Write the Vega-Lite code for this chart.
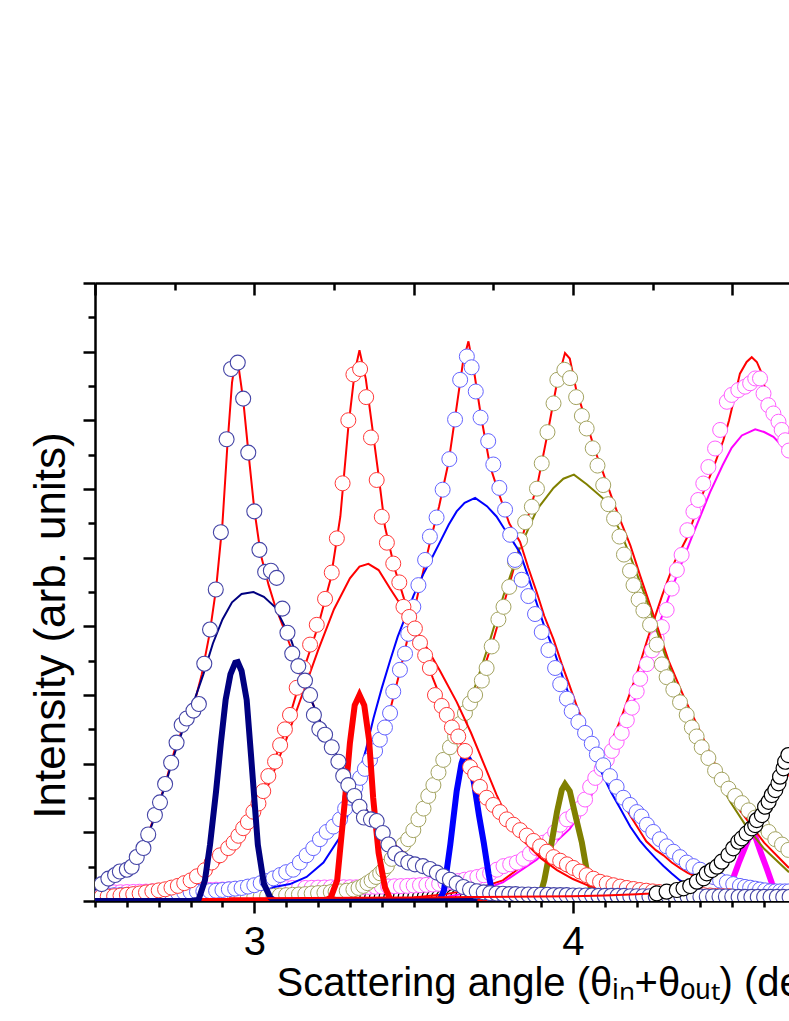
{
"$schema":"https://vega.github.io/schema/vega-lite/v6.json",
"width":694,"height":618,
"autosize":{"type":"none"},
"padding":{"left":95,"top":283,"right":0,"bottom":120},
"background":"white",
"config":{"view":{"stroke":null},"axis":{"grid":false,"domainColor":"#000","tickColor":"#000","labelColor":"#000","titleColor":"#000","labelFont":"Liberation Sans","titleFont":"Liberation Sans","titleFontWeight":"normal","domainWidth":2.5,"tickWidth":2.5}},
"datasets":{
"d1":[{"x":2.521,"y":0.246},{"x":2.542,"y":0.326},{"x":2.563,"y":0.378},{"x":2.578,"y":0.429},{"x":2.600,"y":0.456},{"x":2.615,"y":0.498},{"x":2.631,"y":0.640},{"x":2.652,"y":0.771},{"x":2.667,"y":0.969},{"x":2.688,"y":1.252},{"x":2.704,"y":1.437},{"x":2.720,"y":1.703},{"x":2.739,"y":2.013},{"x":2.756,"y":2.307},{"x":2.772,"y":2.563},{"x":2.788,"y":2.658},{"x":2.809,"y":2.773},{"x":2.826,"y":2.868},{"x":2.843,"y":3.456},{"x":2.861,"y":3.953},{"x":2.879,"y":4.536},{"x":2.895,"y":5.371},{"x":2.913,"y":6.725},{"x":2.927,"y":7.747},{"x":2.948,"y":7.841},{"x":2.965,"y":7.316},{"x":2.981,"y":6.530},{"x":3.000,"y":5.674},{"x":3.016,"y":5.114},{"x":3.034,"y":4.793},{"x":3.052,"y":4.809},{"x":3.070,"y":4.705},{"x":3.088,"y":4.258},{"x":3.104,"y":3.907},{"x":3.119,"y":3.603},{"x":3.138,"y":3.421},{"x":3.159,"y":3.210},{"x":3.175,"y":2.999},{"x":3.187,"y":2.710},{"x":3.204,"y":2.504},{"x":3.222,"y":2.422},{"x":3.243,"y":2.239},{"x":3.264,"y":2.029},{"x":3.279,"y":1.820},{"x":3.295,"y":1.688},{"x":3.314,"y":1.530},{"x":3.330,"y":1.373},{"x":3.344,"y":1.215},{"x":3.366,"y":1.189},{"x":3.384,"y":1.164},{"x":3.403,"y":0.990},{"x":3.421,"y":0.822},{"x":3.442,"y":0.691},{"x":3.463,"y":0.611},{"x":3.483,"y":0.560},{"x":3.504,"y":0.534},{"x":3.529,"y":0.508},{"x":3.551,"y":0.466},{"x":3.573,"y":0.413},{"x":3.593,"y":0.361},{"x":3.614,"y":0.309},{"x":3.635,"y":0.256},{"x":3.656,"y":0.204},{"x":3.677,"y":0.167},{"x":3.698,"y":0.141},{"x":3.72,"y":0.125},{"x":3.74,"y":0.115},{"x":3.76,"y":0.11},{"x":3.78,"y":0.105},{"x":3.80,"y":0.10},{"x":3.82,"y":0.10},{"x":3.84,"y":0.095},{"x":3.86,"y":0.095},{"x":3.88,"y":0.09},{"x":3.90,"y":0.09},{"x":3.92,"y":0.09},{"x":3.94,"y":0.085},{"x":3.96,"y":0.085},{"x":3.98,"y":0.085},{"x":4.00,"y":0.08},{"x":4.02,"y":0.08},{"x":4.04,"y":0.08},{"x":4.06,"y":0.08},{"x":4.08,"y":0.075},{"x":4.10,"y":0.075},{"x":4.12,"y":0.075},{"x":4.14,"y":0.075},{"x":4.16,"y":0.075},{"x":4.18,"y":0.07},{"x":4.20,"y":0.07},{"x":4.22,"y":0.07},{"x":4.24,"y":0.07},{"x":4.26,"y":0.07},{"x":4.28,"y":0.07},{"x":4.30,"y":0.07},{"x":4.32,"y":0.07},{"x":4.34,"y":0.07},{"x":4.36,"y":0.065},{"x":4.38,"y":0.065},{"x":4.40,"y":0.065},{"x":4.42,"y":0.065},{"x":4.44,"y":0.065},{"x":4.46,"y":0.065},{"x":4.48,"y":0.065},{"x":4.50,"y":0.065},{"x":4.52,"y":0.06},{"x":4.54,"y":0.06},{"x":4.56,"y":0.06},{"x":4.58,"y":0.06},{"x":4.60,"y":0.06},{"x":4.62,"y":0.06},{"x":4.64,"y":0.06},{"x":4.66,"y":0.06},{"x":4.68,"y":0.06}],
"f1":[{"x":2.50,"y":0.17},{"x":2.53,"y":0.28},{"x":2.56,"y":0.37},{"x":2.60,"y":0.46},{"x":2.63,"y":0.62},{"x":2.66,"y":0.90},{"x":2.69,"y":1.27},{"x":2.72,"y":1.70},{"x":2.75,"y":2.2},{"x":2.78,"y":2.58},{"x":2.81,"y":2.85},{"x":2.835,"y":3.3},{"x":2.86,"y":3.9},{"x":2.88,"y":4.55},{"x":2.90,"y":5.5},{"x":2.915,"y":6.6},{"x":2.93,"y":7.55},{"x":2.94,"y":7.85},{"x":2.95,"y":7.8},{"x":2.965,"y":7.3},{"x":2.98,"y":6.6},{"x":3.00,"y":5.7},{"x":3.02,"y":5.05},{"x":3.045,"y":4.6},{"x":3.065,"y":4.3},{"x":3.09,"y":4.0},{"x":3.11,"y":3.75},{"x":3.14,"y":3.4},{"x":3.175,"y":2.97},{"x":3.217,"y":2.5},{"x":3.269,"y":2.03},{"x":3.321,"y":1.56},{"x":3.374,"y":1.16},{"x":3.426,"y":0.88},{"x":3.478,"y":0.67},{"x":3.53,"y":0.49},{"x":3.583,"y":0.33},{"x":3.635,"y":0.22},{"x":3.687,"y":0.14},{"x":3.75,"y":0.09},{"x":3.85,"y":0.06},{"x":4.0,"y":0.05},{"x":4.3,"y":0.04},{"x":4.68,"y":0.04}],
"b1":[{"x":2.50,"y":0.16},{"x":2.53,"y":0.27},{"x":2.56,"y":0.36},{"x":2.60,"y":0.45},{"x":2.63,"y":0.61},{"x":2.66,"y":0.88},{"x":2.69,"y":1.25},{"x":2.72,"y":1.68},{"x":2.75,"y":2.15},{"x":2.78,"y":2.55},{"x":2.81,"y":2.9},{"x":2.84,"y":3.3},{"x":2.87,"y":3.75},{"x":2.90,"y":4.1},{"x":2.93,"y":4.35},{"x":2.96,"y":4.47},{"x":2.997,"y":4.5},{"x":3.03,"y":4.43},{"x":3.065,"y":4.28},{"x":3.09,"y":4.05},{"x":3.112,"y":3.85},{"x":3.143,"y":3.42},{"x":3.175,"y":2.97},{"x":3.217,"y":2.5},{"x":3.269,"y":2.03},{"x":3.321,"y":1.56},{"x":3.374,"y":1.16},{"x":3.426,"y":0.875},{"x":3.478,"y":0.665},{"x":3.53,"y":0.48},{"x":3.583,"y":0.325},{"x":3.635,"y":0.22},{"x":3.687,"y":0.14},{"x":3.75,"y":0.085},{"x":3.85,"y":0.05},{"x":4.0,"y":0.04},{"x":4.3,"y":0.03},{"x":4.68,"y":0.02}],
"n1":[{"x":2.50,"y":0},{"x":2.80,"y":0},{"x":2.825,"y":0.02},{"x":2.845,"y":0.3},{"x":2.861,"y":0.82},{"x":2.88,"y":1.6},{"x":2.895,"y":2.3},{"x":2.91,"y":2.93},{"x":2.925,"y":3.3},{"x":2.94,"y":3.47},{"x":2.948,"y":3.48},{"x":2.96,"y":3.35},{"x":2.976,"y":2.93},{"x":2.99,"y":2.1},{"x":3.011,"y":0.82},{"x":3.03,"y":0.25},{"x":3.05,"y":0.05},{"x":3.065,"y":0},{"x":3.70,"y":0}],
"d2":[{"x":2.52,"y":0.06},{"x":2.54,"y":0.065},{"x":2.56,"y":0.07},{"x":2.58,"y":0.08},{"x":2.60,"y":0.09},{"x":2.62,"y":0.10},{"x":2.64,"y":0.11},{"x":2.66,"y":0.125},{"x":2.68,"y":0.14},{"x":2.70,"y":0.155},{"x":2.72,"y":0.17},{"x":2.74,"y":0.195},{"x":2.76,"y":0.22},{"x":2.78,"y":0.26},{"x":2.80,"y":0.30},{"x":2.82,"y":0.36},{"x":2.845,"y":0.45},{"x":2.866,"y":0.56},{"x":2.892,"y":0.665},{"x":2.918,"y":0.77},{"x":2.935,"y":0.85},{"x":2.95,"y":0.95},{"x":2.965,"y":1.06},{"x":2.98,"y":1.15},{"x":2.997,"y":1.30},{"x":3.013,"y":1.42},{"x":3.028,"y":1.60},{"x":3.044,"y":1.82},{"x":3.065,"y":2.03},{"x":3.081,"y":2.27},{"x":3.096,"y":2.50},{"x":3.112,"y":2.71},{"x":3.133,"y":3.105},{"x":3.154,"y":3.393},{"x":3.175,"y":3.734},{"x":3.196,"y":4.022},{"x":3.222,"y":4.40},{"x":3.243,"y":4.783},{"x":3.259,"y":5.281},{"x":3.277,"y":6.083},{"x":3.295,"y":7.001},{"x":3.311,"y":7.668},{"x":3.332,"y":7.747},{"x":3.351,"y":7.338},{"x":3.366,"y":6.75},{"x":3.384,"y":6.131},{"x":3.40,"y":5.595},{"x":3.416,"y":5.218},{"x":3.436,"y":4.914},{"x":3.455,"y":4.64},{"x":3.468,"y":4.284},{"x":3.486,"y":4.137},{"x":3.504,"y":3.969},{"x":3.52,"y":3.76},{"x":3.536,"y":3.576},{"x":3.551,"y":3.393},{"x":3.567,"y":2.999},{"x":3.588,"y":2.841},{"x":3.604,"y":2.71},{"x":3.62,"y":2.527},{"x":3.64,"y":2.396},{"x":3.661,"y":2.186},{"x":3.677,"y":1.95},{"x":3.693,"y":1.85},{"x":3.708,"y":1.662},{"x":3.729,"y":1.504},{"x":3.75,"y":1.399},{"x":3.771,"y":1.295},{"x":3.792,"y":1.189},{"x":3.813,"y":1.111},{"x":3.834,"y":1.032},{"x":3.855,"y":0.953},{"x":3.876,"y":0.875},{"x":3.897,"y":0.796},{"x":3.918,"y":0.718},{"x":3.939,"y":0.639},{"x":3.96,"y":0.587},{"x":3.981,"y":0.534},{"x":4.001,"y":0.482},{"x":4.022,"y":0.429},{"x":4.043,"y":0.376},{"x":4.064,"y":0.325},{"x":4.085,"y":0.28},{"x":4.106,"y":0.255},{"x":4.127,"y":0.23},{"x":4.148,"y":0.21},{"x":4.169,"y":0.19},{"x":4.19,"y":0.175},{"x":4.21,"y":0.16},{"x":4.23,"y":0.15},{"x":4.25,"y":0.14},{"x":4.27,"y":0.13},{"x":4.29,"y":0.12},{"x":4.31,"y":0.11},{"x":4.33,"y":0.105},{"x":4.35,"y":0.10},{"x":4.37,"y":0.095},{"x":4.39,"y":0.09},{"x":4.41,"y":0.085},{"x":4.43,"y":0.08},{"x":4.45,"y":0.075},{"x":4.47,"y":0.07},{"x":4.49,"y":0.07}],
"f2":[{"x":2.50,"y":0.05},{"x":2.60,"y":0.08},{"x":2.70,"y":0.14},{"x":2.80,"y":0.28},{"x":2.85,"y":0.42},{"x":2.90,"y":0.66},{"x":2.95,"y":0.96},{"x":3.00,"y":1.33},{"x":3.05,"y":1.88},{"x":3.10,"y":2.52},{"x":3.15,"y":3.3},{"x":3.20,"y":4.0},{"x":3.24,"y":4.7},{"x":3.27,"y":5.6},{"x":3.295,"y":6.9},{"x":3.315,"y":7.7},{"x":3.33,"y":8.02},{"x":3.35,"y":7.6},{"x":3.37,"y":6.9},{"x":3.39,"y":6.2},{"x":3.41,"y":5.45},{"x":3.44,"y":4.85},{"x":3.47,"y":4.4},{"x":3.50,"y":4.0},{"x":3.53,"y":3.65},{"x":3.56,"y":3.25},{"x":3.60,"y":2.78},{"x":3.64,"y":2.38},{"x":3.68,"y":1.95},{"x":3.72,"y":1.6},{"x":3.76,"y":1.35},{"x":3.80,"y":1.15},{"x":3.85,"y":0.88},{"x":3.90,"y":0.66},{"x":3.95,"y":0.5},{"x":4.00,"y":0.38},{"x":4.05,"y":0.28},{"x":4.10,"y":0.21},{"x":4.15,"y":0.16},{"x":4.20,"y":0.12},{"x":4.30,"y":0.08},{"x":4.40,"y":0.06},{"x":4.50,"y":0.05},{"x":4.68,"y":0.04}],
"b2":[{"x":2.50,"y":0.04},{"x":2.60,"y":0.06},{"x":2.70,"y":0.11},{"x":2.80,"y":0.24},{"x":2.85,"y":0.38},{"x":2.90,"y":0.6},{"x":2.95,"y":0.9},{"x":3.00,"y":1.25},{"x":3.05,"y":1.75},{"x":3.10,"y":2.35},{"x":3.15,"y":3.0},{"x":3.20,"y":3.65},{"x":3.25,"y":4.25},{"x":3.30,"y":4.7},{"x":3.33,"y":4.87},{"x":3.358,"y":4.91},{"x":3.39,"y":4.82},{"x":3.426,"y":4.55},{"x":3.478,"y":4.18},{"x":3.53,"y":3.78},{"x":3.583,"y":3.35},{"x":3.635,"y":2.9},{"x":3.68,"y":2.45},{"x":3.72,"y":2.0},{"x":3.76,"y":1.55},{"x":3.80,"y":1.15},{"x":3.85,"y":0.85},{"x":3.90,"y":0.62},{"x":3.95,"y":0.45},{"x":4.00,"y":0.32},{"x":4.05,"y":0.22},{"x":4.10,"y":0.15},{"x":4.20,"y":0.08},{"x":4.35,"y":0.04},{"x":4.68,"y":0.02}],
"n2":[{"x":2.83,"y":0},{"x":3.22,"y":0},{"x":3.24,"y":0.05},{"x":3.26,"y":0.3},{"x":3.285,"y":1.5},{"x":3.30,"y":2.3},{"x":3.315,"y":2.85},{"x":3.33,"y":3.0},{"x":3.345,"y":2.85},{"x":3.36,"y":2.35},{"x":3.373,"y":1.5},{"x":3.39,"y":0.7},{"x":3.41,"y":0.2},{"x":3.426,"y":0.03},{"x":3.44,"y":0},{"x":3.80,"y":0}],
"d3":[{"x":2.52,"y":0.08},{"x":2.54,"y":0.082},{"x":2.56,"y":0.085},{"x":2.58,"y":0.087},{"x":2.60,"y":0.09},{"x":2.62,"y":0.092},{"x":2.64,"y":0.095},{"x":2.66,"y":0.097},{"x":2.68,"y":0.10},{"x":2.70,"y":0.105},{"x":2.72,"y":0.11},{"x":2.74,"y":0.115},{"x":2.76,"y":0.12},{"x":2.78,"y":0.125},{"x":2.80,"y":0.13},{"x":2.82,"y":0.135},{"x":2.84,"y":0.14},{"x":2.86,"y":0.145},{"x":2.88,"y":0.15},{"x":2.90,"y":0.16},{"x":2.92,"y":0.17},{"x":2.94,"y":0.18},{"x":2.96,"y":0.19},{"x":2.98,"y":0.21},{"x":3.00,"y":0.23},{"x":3.02,"y":0.26},{"x":3.04,"y":0.29},{"x":3.06,"y":0.33},{"x":3.081,"y":0.378},{"x":3.10,"y":0.42},{"x":3.122,"y":0.456},{"x":3.143,"y":0.56},{"x":3.164,"y":0.665},{"x":3.185,"y":0.77},{"x":3.206,"y":0.90},{"x":3.227,"y":1.006},{"x":3.248,"y":1.084},{"x":3.269,"y":1.189},{"x":3.285,"y":1.346},{"x":3.301,"y":1.504},{"x":3.317,"y":1.65},{"x":3.332,"y":1.793},{"x":3.347,"y":1.924},{"x":3.363,"y":2.055},{"x":3.379,"y":2.186},{"x":3.394,"y":2.35},{"x":3.41,"y":2.527},{"x":3.426,"y":2.737},{"x":3.436,"y":3.05},{"x":3.457,"y":3.367},{"x":3.473,"y":3.603},{"x":3.483,"y":3.891},{"x":3.499,"y":4.284},{"x":3.515,"y":4.6},{"x":3.536,"y":4.967},{"x":3.551,"y":5.307},{"x":3.572,"y":5.585},{"x":3.591,"y":5.99},{"x":3.612,"y":6.435},{"x":3.63,"y":7.012},{"x":3.646,"y":7.59},{"x":3.667,"y":7.93},{"x":3.682,"y":7.773},{"x":3.695,"y":7.42},{"x":3.71,"y":7.04},{"x":3.734,"y":6.697},{"x":3.75,"y":6.357},{"x":3.769,"y":6.016},{"x":3.787,"y":5.70},{"x":3.803,"y":5.333},{"x":3.818,"y":4.967},{"x":3.839,"y":4.678},{"x":3.86,"y":4.441},{"x":3.881,"y":4.179},{"x":3.902,"y":3.917},{"x":3.923,"y":3.655},{"x":3.944,"y":3.393},{"x":3.96,"y":3.157},{"x":3.981,"y":2.946},{"x":3.996,"y":2.763},{"x":4.017,"y":2.606},{"x":4.038,"y":2.448},{"x":4.059,"y":2.291},{"x":4.075,"y":2.134},{"x":4.095,"y":1.977},{"x":4.116,"y":1.819},{"x":4.137,"y":1.662},{"x":4.158,"y":1.504},{"x":4.179,"y":1.399},{"x":4.20,"y":1.295},{"x":4.215,"y":1.23},{"x":4.232,"y":1.111},{"x":4.252,"y":1.006},{"x":4.273,"y":0.9},{"x":4.294,"y":0.796},{"x":4.315,"y":0.718},{"x":4.336,"y":0.639},{"x":4.357,"y":0.56},{"x":4.378,"y":0.508},{"x":4.399,"y":0.456},{"x":4.42,"y":0.403},{"x":4.441,"y":0.35},{"x":4.462,"y":0.298},{"x":4.483,"y":0.272},{"x":4.503,"y":0.246},{"x":4.524,"y":0.22},{"x":4.54,"y":0.205},{"x":4.556,"y":0.194},{"x":4.572,"y":0.18},{"x":4.587,"y":0.167},{"x":4.603,"y":0.155},{"x":4.619,"y":0.141},{"x":4.635,"y":0.14},{"x":4.65,"y":0.14},{"x":4.665,"y":0.14},{"x":4.678,"y":0.14}],
"f3":[{"x":2.50,"y":0.09},{"x":2.75,"y":0.11},{"x":3.00,"y":0.2},{"x":3.05,"y":0.3},{"x":3.10,"y":0.4},{"x":3.15,"y":0.6},{"x":3.20,"y":0.86},{"x":3.25,"y":1.12},{"x":3.30,"y":1.48},{"x":3.35,"y":1.95},{"x":3.40,"y":2.45},{"x":3.43,"y":2.85},{"x":3.46,"y":3.4},{"x":3.49,"y":4.0},{"x":3.52,"y":4.6},{"x":3.55,"y":5.2},{"x":3.58,"y":5.75},{"x":3.61,"y":6.4},{"x":3.635,"y":7.2},{"x":3.655,"y":7.85},{"x":3.672,"y":8.15},{"x":3.69,"y":7.7},{"x":3.71,"y":7.1},{"x":3.74,"y":6.33},{"x":3.77,"y":5.9},{"x":3.80,"y":5.5},{"x":3.834,"y":5.23},{"x":3.86,"y":4.85},{"x":3.886,"y":4.5},{"x":3.91,"y":4.15},{"x":3.939,"y":3.81},{"x":3.965,"y":3.45},{"x":3.99,"y":3.13},{"x":4.015,"y":2.8},{"x":4.043,"y":2.5},{"x":4.07,"y":2.22},{"x":4.095,"y":1.98},{"x":4.12,"y":1.72},{"x":4.148,"y":1.5},{"x":4.179,"y":1.25},{"x":4.21,"y":1.02},{"x":4.23,"y":0.87},{"x":4.26,"y":0.74},{"x":4.284,"y":0.665},{"x":4.31,"y":0.56},{"x":4.336,"y":0.48},{"x":4.36,"y":0.41},{"x":4.388,"y":0.35},{"x":4.44,"y":0.25},{"x":4.493,"y":0.19},{"x":4.55,"y":0.15},{"x":4.60,"y":0.12},{"x":4.68,"y":0.1}],
"b3":[{"x":2.50,"y":0.1},{"x":2.90,"y":0.1},{"x":3.00,"y":0.15},{"x":3.112,"y":0.246},{"x":3.164,"y":0.35},{"x":3.217,"y":0.56},{"x":3.269,"y":0.93},{"x":3.295,"y":1.28},{"x":3.321,"y":1.72},{"x":3.35,"y":2.2},{"x":3.374,"y":2.66},{"x":3.40,"y":3.1},{"x":3.426,"y":3.5},{"x":3.45,"y":3.85},{"x":3.478,"y":4.18},{"x":3.50,"y":4.45},{"x":3.53,"y":4.757},{"x":3.56,"y":5.02},{"x":3.583,"y":5.23},{"x":3.61,"y":5.48},{"x":3.635,"y":5.674},{"x":3.66,"y":5.8},{"x":3.693,"y":5.87},{"x":3.73,"y":5.75},{"x":3.76,"y":5.6},{"x":3.782,"y":5.44},{"x":3.81,"y":5.25},{"x":3.834,"y":5.07},{"x":3.86,"y":4.72},{"x":3.886,"y":4.34},{"x":3.91,"y":4.0},{"x":3.94,"y":3.655},{"x":3.965,"y":3.3},{"x":3.99,"y":2.97},{"x":4.015,"y":2.65},{"x":4.043,"y":2.34},{"x":4.07,"y":2.08},{"x":4.095,"y":1.82},{"x":4.12,"y":1.58},{"x":4.148,"y":1.35},{"x":4.18,"y":1.08},{"x":4.21,"y":0.88},{"x":4.23,"y":0.77},{"x":4.26,"y":0.62},{"x":4.284,"y":0.51},{"x":4.31,"y":0.4},{"x":4.336,"y":0.3},{"x":4.36,"y":0.23},{"x":4.388,"y":0.167},{"x":4.42,"y":0.11},{"x":4.44,"y":0.087},{"x":4.49,"y":0.035},{"x":4.55,"y":0.02},{"x":4.68,"y":0.01}],
"n3":[{"x":3.45,"y":0},{"x":3.58,"y":0},{"x":3.595,"y":0.15},{"x":3.615,"y":0.82},{"x":3.635,"y":1.6},{"x":3.65,"y":2.0},{"x":3.661,"y":2.16},{"x":3.675,"y":2.05},{"x":3.69,"y":1.7},{"x":3.705,"y":1.25},{"x":3.72,"y":0.85},{"x":3.735,"y":0.4},{"x":3.748,"y":0.08},{"x":3.76,"y":0},{"x":3.90,"y":0}],
"d4":[{"x":2.90,"y":0.05},{"x":2.92,"y":0.052},{"x":2.94,"y":0.055},{"x":2.96,"y":0.057},{"x":2.98,"y":0.06},{"x":3.00,"y":0.062},{"x":3.02,"y":0.065},{"x":3.04,"y":0.07},{"x":3.06,"y":0.075},{"x":3.08,"y":0.08},{"x":3.10,"y":0.085},{"x":3.12,"y":0.09},{"x":3.14,"y":0.095},{"x":3.16,"y":0.10},{"x":3.18,"y":0.11},{"x":3.20,"y":0.115},{"x":3.22,"y":0.12},{"x":3.24,"y":0.13},{"x":3.255,"y":0.135},{"x":3.269,"y":0.14},{"x":3.29,"y":0.15},{"x":3.311,"y":0.167},{"x":3.327,"y":0.19},{"x":3.342,"y":0.22},{"x":3.355,"y":0.26},{"x":3.368,"y":0.298},{"x":3.382,"y":0.35},{"x":3.395,"y":0.403},{"x":3.405,"y":0.45},{"x":3.416,"y":0.508},{"x":3.431,"y":0.613},{"x":3.452,"y":0.718},{"x":3.468,"y":0.822},{"x":3.483,"y":0.9},{"x":3.499,"y":1.032},{"x":3.515,"y":1.189},{"x":3.531,"y":1.346},{"x":3.546,"y":1.53},{"x":3.562,"y":1.688},{"x":3.578,"y":1.872},{"x":3.593,"y":2.055},{"x":3.614,"y":2.239},{"x":3.63,"y":2.396},{"x":3.646,"y":2.58},{"x":3.661,"y":2.737},{"x":3.677,"y":2.88},{"x":3.693,"y":3.0},{"x":3.714,"y":3.21},{"x":3.729,"y":3.393},{"x":3.745,"y":3.707},{"x":3.766,"y":4.1},{"x":3.782,"y":4.284},{"x":3.80,"y":4.574},{"x":3.818,"y":4.94},{"x":3.834,"y":5.255},{"x":3.85,"y":5.517},{"x":3.871,"y":5.742},{"x":3.887,"y":6.005},{"x":3.902,"y":6.373},{"x":3.92,"y":6.828},{"x":3.939,"y":7.247},{"x":3.951,"y":7.59},{"x":3.973,"y":7.736},{"x":3.991,"y":7.615},{"x":4.01,"y":7.338},{"x":4.028,"y":7.064},{"x":4.043,"y":6.881},{"x":4.062,"y":6.593},{"x":4.077,"y":6.341},{"x":4.095,"y":6.057},{"x":4.111,"y":5.779},{"x":4.129,"y":5.569},{"x":4.146,"y":5.307},{"x":4.16,"y":5.045},{"x":4.179,"y":4.809},{"x":4.19,"y":4.6},{"x":4.206,"y":4.389},{"x":4.221,"y":4.231},{"x":4.242,"y":4.022},{"x":4.263,"y":3.734},{"x":4.279,"y":3.446},{"x":4.294,"y":3.26},{"x":4.315,"y":3.079},{"x":4.336,"y":2.894},{"x":4.357,"y":2.71},{"x":4.373,"y":2.527},{"x":4.388,"y":2.396},{"x":4.404,"y":2.239},{"x":4.425,"y":2.082},{"x":4.446,"y":1.898},{"x":4.467,"y":1.767},{"x":4.488,"y":1.636},{"x":4.509,"y":1.53},{"x":4.53,"y":1.426},{"x":4.551,"y":1.32},{"x":4.572,"y":1.215},{"x":4.593,"y":1.111},{"x":4.614,"y":1.006},{"x":4.635,"y":0.9},{"x":4.656,"y":0.822},{"x":4.676,"y":0.744}],
"f4":[{"x":3.00,"y":0.06},{"x":3.20,"y":0.1},{"x":3.30,"y":0.15},{"x":3.40,"y":0.42},{"x":3.50,"y":1.05},{"x":3.55,"y":1.6},{"x":3.60,"y":2.12},{"x":3.65,"y":2.65},{"x":3.70,"y":3.1},{"x":3.75,"y":3.8},{"x":3.80,"y":4.6},{"x":3.85,"y":5.45},{"x":3.89,"y":6.1},{"x":3.92,"y":6.8},{"x":3.95,"y":7.55},{"x":3.975,"y":7.98},{"x":3.99,"y":7.9},{"x":4.01,"y":7.45},{"x":4.043,"y":6.96},{"x":4.07,"y":6.55},{"x":4.095,"y":6.23},{"x":4.12,"y":5.9},{"x":4.148,"y":5.55},{"x":4.18,"y":5.18},{"x":4.21,"y":4.75},{"x":4.25,"y":4.2},{"x":4.30,"y":3.5},{"x":4.35,"y":2.95},{"x":4.383,"y":2.63},{"x":4.45,"y":1.95},{"x":4.524,"y":1.32},{"x":4.60,"y":0.85},{"x":4.678,"y":0.48}],
"b4":[{"x":3.00,"y":0.02},{"x":3.20,"y":0.06},{"x":3.30,"y":0.12},{"x":3.35,"y":0.25},{"x":3.42,"y":0.5},{"x":3.48,"y":0.86},{"x":3.53,"y":1.35},{"x":3.58,"y":1.88},{"x":3.63,"y":2.4},{"x":3.677,"y":2.9},{"x":3.73,"y":3.65},{"x":3.782,"y":4.45},{"x":3.834,"y":5.15},{"x":3.887,"y":5.70},{"x":3.939,"y":6.016},{"x":3.97,"y":6.15},{"x":4.003,"y":6.21},{"x":4.043,"y":6.07},{"x":4.095,"y":5.86},{"x":4.148,"y":5.39},{"x":4.18,"y":5.02},{"x":4.23,"y":4.4},{"x":4.284,"y":3.65},{"x":4.336,"y":2.98},{"x":4.388,"y":2.4},{"x":4.44,"y":1.9},{"x":4.493,"y":1.45},{"x":4.545,"y":1.08},{"x":4.6,"y":0.76},{"x":4.678,"y":0.42}],
"n4":[{"x":3.80,"y":0},{"x":3.88,"y":0},{"x":3.895,"y":0.05},{"x":3.91,"y":0.3},{"x":3.933,"y":0.85},{"x":3.95,"y":1.3},{"x":3.965,"y":1.62},{"x":3.975,"y":1.70},{"x":3.99,"y":1.6},{"x":4.01,"y":1.2},{"x":4.028,"y":0.85},{"x":4.045,"y":0.4},{"x":4.06,"y":0.12},{"x":4.07,"y":0.02},{"x":4.09,"y":0},{"x":4.20,"y":0}],
"d5":[{"x":2.52,"y":0.12},{"x":2.54,"y":0.122},{"x":2.56,"y":0.125},{"x":2.58,"y":0.127},{"x":2.60,"y":0.13},{"x":2.62,"y":0.132},{"x":2.64,"y":0.135},{"x":2.66,"y":0.137},{"x":2.68,"y":0.14},{"x":2.70,"y":0.142},{"x":2.72,"y":0.145},{"x":2.74,"y":0.147},{"x":2.76,"y":0.15},{"x":2.78,"y":0.152},{"x":2.80,"y":0.155},{"x":2.82,"y":0.157},{"x":2.84,"y":0.16},{"x":2.86,"y":0.162},{"x":2.88,"y":0.165},{"x":2.90,"y":0.167},{"x":2.92,"y":0.17},{"x":2.94,"y":0.172},{"x":2.96,"y":0.175},{"x":2.98,"y":0.177},{"x":3.00,"y":0.18},{"x":3.02,"y":0.18},{"x":3.04,"y":0.18},{"x":3.06,"y":0.182},{"x":3.08,"y":0.185},{"x":3.10,"y":0.187},{"x":3.12,"y":0.19},{"x":3.14,"y":0.19},{"x":3.16,"y":0.19},{"x":3.18,"y":0.192},{"x":3.20,"y":0.195},{"x":3.22,"y":0.197},{"x":3.24,"y":0.20},{"x":3.26,"y":0.20},{"x":3.28,"y":0.20},{"x":3.30,"y":0.20},{"x":3.32,"y":0.20},{"x":3.34,"y":0.202},{"x":3.36,"y":0.205},{"x":3.38,"y":0.207},{"x":3.40,"y":0.21},{"x":3.42,"y":0.212},{"x":3.44,"y":0.215},{"x":3.46,"y":0.217},{"x":3.48,"y":0.22},{"x":3.50,"y":0.225},{"x":3.52,"y":0.23},{"x":3.54,"y":0.235},{"x":3.56,"y":0.24},{"x":3.58,"y":0.25},{"x":3.60,"y":0.26},{"x":3.62,"y":0.275},{"x":3.64,"y":0.29},{"x":3.66,"y":0.31},{"x":3.68,"y":0.33},{"x":3.70,"y":0.35},{"x":3.72,"y":0.375},{"x":3.74,"y":0.403},{"x":3.761,"y":0.456},{"x":3.782,"y":0.508},{"x":3.803,"y":0.534},{"x":3.824,"y":0.56},{"x":3.845,"y":0.613},{"x":3.865,"y":0.691},{"x":3.886,"y":0.77},{"x":3.907,"y":0.849},{"x":3.928,"y":0.9},{"x":3.944,"y":1.006},{"x":3.96,"y":1.111},{"x":3.981,"y":1.189},{"x":4.001,"y":1.242},{"x":4.022,"y":1.346},{"x":4.038,"y":1.478},{"x":4.054,"y":1.662},{"x":4.07,"y":1.793},{"x":4.09,"y":1.924},{"x":4.106,"y":2.055},{"x":4.122,"y":2.186},{"x":4.137,"y":2.317},{"x":4.153,"y":2.448},{"x":4.169,"y":2.632},{"x":4.185,"y":2.815},{"x":4.20,"y":3.051},{"x":4.211,"y":3.236},{"x":4.232,"y":3.45},{"x":4.248,"y":3.65},{"x":4.263,"y":3.82},{"x":4.279,"y":3.99},{"x":4.294,"y":4.24},{"x":4.31,"y":4.55},{"x":4.326,"y":4.82},{"x":4.341,"y":5.04},{"x":4.359,"y":5.40},{"x":4.378,"y":5.67},{"x":4.393,"y":5.84},{"x":4.409,"y":6.08},{"x":4.425,"y":6.32},{"x":4.446,"y":6.59},{"x":4.462,"y":6.86},{"x":4.483,"y":7.27},{"x":4.498,"y":7.37},{"x":4.519,"y":7.44},{"x":4.54,"y":7.49},{"x":4.556,"y":7.54},{"x":4.572,"y":7.61},{"x":4.587,"y":7.61},{"x":4.598,"y":7.39},{"x":4.613,"y":7.22},{"x":4.629,"y":7.10},{"x":4.645,"y":6.98},{"x":4.655,"y":6.86},{"x":4.666,"y":6.71},{"x":4.678,"y":6.56}],
"f5":[{"x":3.50,"y":0.05},{"x":3.60,"y":0.1},{"x":3.70,"y":0.18},{"x":3.78,"y":0.3},{"x":3.886,"y":0.665},{"x":3.99,"y":1.14},{"x":4.05,"y":1.5},{"x":4.10,"y":2.1},{"x":4.15,"y":2.65},{"x":4.20,"y":3.3},{"x":4.233,"y":3.8},{"x":4.28,"y":4.45},{"x":4.32,"y":4.95},{"x":4.359,"y":5.3},{"x":4.40,"y":5.85},{"x":4.44,"y":6.3},{"x":4.472,"y":6.71},{"x":4.49,"y":7.0},{"x":4.505,"y":7.3},{"x":4.524,"y":7.68},{"x":4.545,"y":7.85},{"x":4.561,"y":7.92},{"x":4.577,"y":7.85},{"x":4.593,"y":7.68},{"x":4.608,"y":7.34},{"x":4.624,"y":7.19},{"x":4.645,"y":6.93},{"x":4.678,"y":6.71}],
"b5":[{"x":3.40,"y":0.01},{"x":3.50,"y":0.02},{"x":3.60,"y":0.06},{"x":3.70,"y":0.14},{"x":3.78,"y":0.27},{"x":3.886,"y":0.6},{"x":3.99,"y":1.05},{"x":4.05,"y":1.45},{"x":4.10,"y":2.0},{"x":4.15,"y":2.5},{"x":4.20,"y":3.0},{"x":4.253,"y":3.8},{"x":4.31,"y":4.55},{"x":4.373,"y":5.3},{"x":4.43,"y":5.95},{"x":4.47,"y":6.35},{"x":4.498,"y":6.6},{"x":4.53,"y":6.78},{"x":4.572,"y":6.87},{"x":4.60,"y":6.83},{"x":4.629,"y":6.76},{"x":4.65,"y":6.66},{"x":4.678,"y":6.49}],
"n5":[{"x":4.40,"y":0},{"x":4.47,"y":0},{"x":4.485,"y":0.1},{"x":4.50,"y":0.3},{"x":4.52,"y":0.55},{"x":4.54,"y":0.78},{"x":4.555,"y":0.95},{"x":4.565,"y":1.0},{"x":4.575,"y":0.9},{"x":4.59,"y":0.7},{"x":4.61,"y":0.45},{"x":4.625,"y":0.25},{"x":4.645,"y":0.06},{"x":4.66,"y":0},{"x":4.68,"y":0}],
"d6":[{"x":2.920,"y":0.06},{"x":2.935,"y":0.06},{"x":2.950,"y":0.06},{"x":2.965,"y":0.06},{"x":2.980,"y":0.06},{"x":2.995,"y":0.06},{"x":3.010,"y":0.06},{"x":3.025,"y":0.06},{"x":3.040,"y":0.06},{"x":3.055,"y":0.06},{"x":3.070,"y":0.06},{"x":3.085,"y":0.06},{"x":3.100,"y":0.06},{"x":3.115,"y":0.06},{"x":3.130,"y":0.06},{"x":3.145,"y":0.06},{"x":3.160,"y":0.06},{"x":3.175,"y":0.06},{"x":3.190,"y":0.06},{"x":3.205,"y":0.06},{"x":3.220,"y":0.06},{"x":3.235,"y":0.06},{"x":3.250,"y":0.06},{"x":3.265,"y":0.06},{"x":3.280,"y":0.06},{"x":3.295,"y":0.06},{"x":3.310,"y":0.06},{"x":3.325,"y":0.06},{"x":3.340,"y":0.06},{"x":3.355,"y":0.06},{"x":3.370,"y":0.06},{"x":3.385,"y":0.06},{"x":3.400,"y":0.06},{"x":3.415,"y":0.06},{"x":3.430,"y":0.06},{"x":3.445,"y":0.06},{"x":3.460,"y":0.06},{"x":3.475,"y":0.06},{"x":3.490,"y":0.06},{"x":3.505,"y":0.06},{"x":3.520,"y":0.06},{"x":3.535,"y":0.06},{"x":3.550,"y":0.06},{"x":3.565,"y":0.06},{"x":3.580,"y":0.06},{"x":3.595,"y":0.06},{"x":3.610,"y":0.06},{"x":3.625,"y":0.06},{"x":3.640,"y":0.06},{"x":3.655,"y":0.06},{"x":3.670,"y":0.06},{"x":3.685,"y":0.06},{"x":3.700,"y":0.06},{"x":3.715,"y":0.06},{"x":3.730,"y":0.06},{"x":3.745,"y":0.06},{"x":3.760,"y":0.06},{"x":3.775,"y":0.06},{"x":3.790,"y":0.06},{"x":3.805,"y":0.06},{"x":3.820,"y":0.06},{"x":3.835,"y":0.06},{"x":3.850,"y":0.06},{"x":3.865,"y":0.06},{"x":3.880,"y":0.06},{"x":3.895,"y":0.06},{"x":3.910,"y":0.06},{"x":3.925,"y":0.06},{"x":3.940,"y":0.06},{"x":3.955,"y":0.06},{"x":3.970,"y":0.06},{"x":3.985,"y":0.06},{"x":4.000,"y":0.06},{"x":4.015,"y":0.06},{"x":4.030,"y":0.06},{"x":4.045,"y":0.06},{"x":4.060,"y":0.06},{"x":4.075,"y":0.06},{"x":4.090,"y":0.06},{"x":4.105,"y":0.06},{"x":4.120,"y":0.06},{"x":4.135,"y":0.065},{"x":4.150,"y":0.07},{"x":4.165,"y":0.075},{"x":4.180,"y":0.08},{"x":4.195,"y":0.085},{"x":4.210,"y":0.09},{"x":4.225,"y":0.095},{"x":4.240,"y":0.1},{"x":4.263,"y":0.112},{"x":4.294,"y":0.136},{"x":4.326,"y":0.16},{"x":4.347,"y":0.185},{"x":4.368,"y":0.218},{"x":4.389,"y":0.281},{"x":4.41,"y":0.33},{"x":4.42,"y":0.403},{"x":4.436,"y":0.451},{"x":4.452,"y":0.5},{"x":4.467,"y":0.572},{"x":4.488,"y":0.67},{"x":4.503,"y":0.767},{"x":4.519,"y":0.863},{"x":4.53,"y":0.912},{"x":4.545,"y":0.985},{"x":4.561,"y":1.058},{"x":4.572,"y":1.106},{"x":4.577,"y":1.179},{"x":4.593,"y":1.252},{"x":4.603,"y":1.373},{"x":4.614,"y":1.445},{"x":4.624,"y":1.543},{"x":4.635,"y":1.616},{"x":4.645,"y":1.713},{"x":4.65,"y":1.81},{"x":4.661,"y":1.932},{"x":4.666,"y":2.028},{"x":4.676,"y":2.125}],
"f6":[{"x":2.92,"y":0.04},{"x":3.5,"y":0.05},{"x":4.0,"y":0.07},{"x":4.1,"y":0.08},{"x":4.2,"y":0.1},{"x":4.242,"y":0.11},{"x":4.30,"y":0.15},{"x":4.347,"y":0.21},{"x":4.40,"y":0.32},{"x":4.452,"y":0.48},{"x":4.503,"y":0.69},{"x":4.556,"y":0.985},{"x":4.608,"y":1.32},{"x":4.661,"y":1.71},{"x":4.678,"y":1.86}]
},
"layer":[
{"data":{"name":"d6"},"transform":[{"filter":"datum.x < 4.25"}],"mark":{"type":"point","shape":"circle","size":225,"fill":"white","fillOpacity":1,"stroke":"#000000","strokeWidth":1.2,"clip":true},
 "encoding":{"x":{"field":"x","type":"quantitative","scale":{"domain":[2.5,4.678],"nice":false,"zero":false},
  "axis":{"orient":"bottom","values":[3,4],"format":"d","tickSize":12,"labelFontSize":40,"labelPadding":9,"labelFlush":false,"labelOverlap":false,"title":"Scattering angle (θᵢₙ+θₒᵤₜ) (deg)","titleFontSize":40,"titleAlign":"left","titleAnchor":"start","titleX":181,"titleY":94,"titleBaseline":"alphabetic"}},
  "y":{"field":"y","type":"quantitative","scale":{"domain":[0,9],"nice":false,"zero":false},
  "axis":{"orient":"left","values":[0,1,2,3,4,5,6,7,8,9],"tickSize":12,"labels":false,"title":"Intensity (arb. units)","titleFontSize":44,"titleAngle":-90,"titleAlign":"center","titleBaseline":"alphabetic","titleX":-31,"titleY":342}}}},
{"data":{"name":"f5"},"mark":{"type":"line","color":"#ff0000","strokeWidth":2,"clip":true},
 "encoding":{"x":{"field":"x","type":"quantitative","axis":{"orient":"bottom","values":[2.5,2.6,2.7,2.8,2.9,3.1,3.2,3.3,3.4,3.5,3.6,3.7,3.8,3.9,4.1,4.2,4.3,4.4,4.5,4.6],"tickSize":6,"labels":false,"domain":false,"title":null}},
  "y":{"field":"y","type":"quantitative","axis":{"orient":"left","values":[0.5,1.5,2.5,3.5,4.5,5.5,6.5,7.5,8.5],"tickSize":7,"labels":false,"domain":false,"title":null}}}},
{"data":{"name":"b5"},"mark":{"type":"line","color":"#ff00ff","strokeWidth":2,"clip":true},
 "encoding":{"x":{"field":"x","type":"quantitative","axis":{"orient":"top","values":[2.5,3,3.5,4,4.5],"tickSize":-12,"labels":false,"title":null}},
  "y":{"field":"y","type":"quantitative","axis":null}}},
{"data":{"name":"n5"},"mark":{"type":"line","color":"#ff00ff","strokeWidth":6,"clip":true},
 "encoding":{"x":{"field":"x","type":"quantitative","axis":{"orient":"top","values":[2.75,3.25,3.75,4.25],"tickSize":-7,"labels":false,"domain":false,"title":null}},
  "y":{"field":"y","type":"quantitative","axis":null}}},
{"data":{"name":"d5"},"mark":{"type":"point","shape":"circle","size":225,"fill":"white","fillOpacity":1,"stroke":"#ff5cff","strokeWidth":1,"clip":true},"encoding":{"x":{"field":"x","type":"quantitative","axis":null},"y":{"field":"y","type":"quantitative","axis":null}}},
{"data":{"name":"f4"},"mark":{"type":"line","color":"#ff0000","strokeWidth":2,"clip":true},"encoding":{"x":{"field":"x","type":"quantitative","axis":null},"y":{"field":"y","type":"quantitative","axis":null}}},
{"data":{"name":"b4"},"mark":{"type":"line","color":"#808000","strokeWidth":2,"clip":true},"encoding":{"x":{"field":"x","type":"quantitative","axis":null},"y":{"field":"y","type":"quantitative","axis":null}}},
{"data":{"name":"n4"},"mark":{"type":"line","color":"#808000","strokeWidth":6,"clip":true},"encoding":{"x":{"field":"x","type":"quantitative","axis":null},"y":{"field":"y","type":"quantitative","axis":null}}},
{"data":{"name":"d4"},"mark":{"type":"point","shape":"circle","size":225,"fill":"white","fillOpacity":1,"stroke":"#a3a360","strokeWidth":1,"clip":true},"encoding":{"x":{"field":"x","type":"quantitative","axis":null},"y":{"field":"y","type":"quantitative","axis":null}}},
{"data":{"name":"f3"},"mark":{"type":"line","color":"#ff0000","strokeWidth":2,"clip":true},"encoding":{"x":{"field":"x","type":"quantitative","axis":null},"y":{"field":"y","type":"quantitative","axis":null}}},
{"data":{"name":"b3"},"mark":{"type":"line","color":"#0000ff","strokeWidth":2,"clip":true},"encoding":{"x":{"field":"x","type":"quantitative","axis":null},"y":{"field":"y","type":"quantitative","axis":null}}},
{"data":{"name":"n3"},"mark":{"type":"line","color":"#0000ff","strokeWidth":6,"clip":true},"encoding":{"x":{"field":"x","type":"quantitative","axis":null},"y":{"field":"y","type":"quantitative","axis":null}}},
{"data":{"name":"d3"},"mark":{"type":"point","shape":"circle","size":225,"fill":"white","fillOpacity":1,"stroke":"#6464ff","strokeWidth":1,"clip":true},"encoding":{"x":{"field":"x","type":"quantitative","axis":null},"y":{"field":"y","type":"quantitative","axis":null}}},
{"data":{"name":"f2"},"mark":{"type":"line","color":"#ff0000","strokeWidth":2,"clip":true},"encoding":{"x":{"field":"x","type":"quantitative","axis":null},"y":{"field":"y","type":"quantitative","axis":null}}},
{"data":{"name":"b2"},"mark":{"type":"line","color":"#ff0000","strokeWidth":2,"clip":true},"encoding":{"x":{"field":"x","type":"quantitative","axis":null},"y":{"field":"y","type":"quantitative","axis":null}}},
{"data":{"name":"n2"},"mark":{"type":"line","color":"#ff0000","strokeWidth":6,"clip":true},"encoding":{"x":{"field":"x","type":"quantitative","axis":null},"y":{"field":"y","type":"quantitative","axis":null}}},
{"data":{"name":"d2"},"mark":{"type":"point","shape":"circle","size":225,"fill":"white","fillOpacity":1,"stroke":"#ff3838","strokeWidth":1,"clip":true},"encoding":{"x":{"field":"x","type":"quantitative","axis":null},"y":{"field":"y","type":"quantitative","axis":null}}},
{"data":{"name":"f1"},"mark":{"type":"line","color":"#ff0000","strokeWidth":2,"clip":true},"encoding":{"x":{"field":"x","type":"quantitative","axis":null},"y":{"field":"y","type":"quantitative","axis":null}}},
{"data":{"name":"b1"},"mark":{"type":"line","color":"#000080","strokeWidth":2,"clip":true},"encoding":{"x":{"field":"x","type":"quantitative","axis":null},"y":{"field":"y","type":"quantitative","axis":null}}},
{"data":{"name":"n1"},"mark":{"type":"line","color":"#000080","strokeWidth":6,"clip":true},"encoding":{"x":{"field":"x","type":"quantitative","axis":null},"y":{"field":"y","type":"quantitative","axis":null}}},
{"data":{"name":"d1"},"mark":{"type":"point","shape":"circle","size":225,"fill":"white","fillOpacity":1,"stroke":"#4444a6","strokeWidth":1.1,"clip":true},"encoding":{"x":{"field":"x","type":"quantitative","axis":null},"y":{"field":"y","type":"quantitative","axis":null}}},
{"data":{"name":"f6"},"mark":{"type":"line","color":"#ff0000","strokeWidth":2,"clip":true},"encoding":{"x":{"field":"x","type":"quantitative","axis":null},"y":{"field":"y","type":"quantitative","axis":null}}},
{"data":{"name":"d6"},"transform":[{"filter":"datum.x >= 4.25"}],"mark":{"type":"point","shape":"circle","size":225,"fill":"white","fillOpacity":1,"stroke":"#000000","strokeWidth":1.2,"clip":true},"encoding":{"x":{"field":"x","type":"quantitative","axis":null},"y":{"field":"y","type":"quantitative","axis":null}}}
],
"resolve":{"axis":{"x":"independent","y":"independent"}}
}
